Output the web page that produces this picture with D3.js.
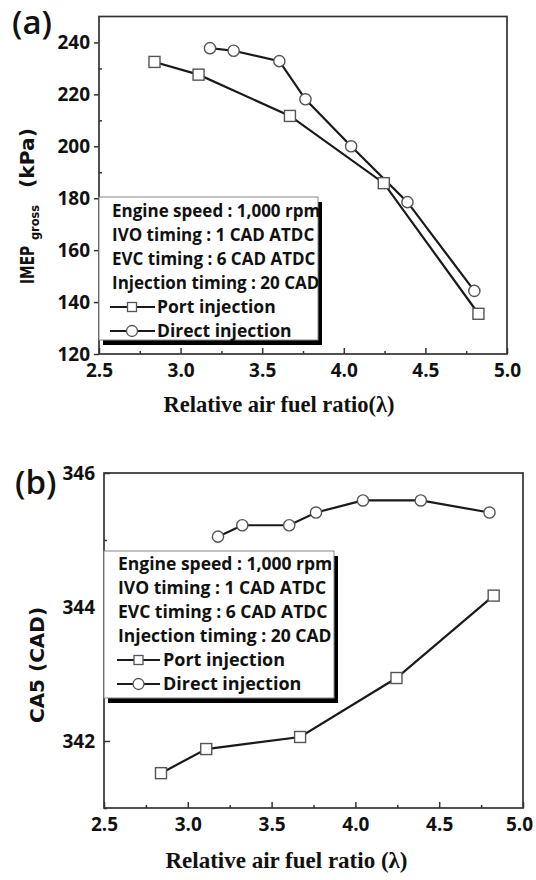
<!DOCTYPE html>
<html>
<head>
<meta charset="utf-8">
<script src="https://cdn.jsdelivr.net/npm/d3@7"></script>
<style>
  body { margin: 0; background: #fff; }
  svg { display: block; }
  .axis line { stroke: #333; stroke-width: 1.5px; }
  .legend text { font-family: "Open Sans", sans-serif; font-weight: 700; fill: #111; }
  .panel-label { font-family: "Open Sans", sans-serif; font-weight: 600; font-size: 33px; fill: #111; }
  .x-title { font-family: "Liberation Serif", "Times New Roman", serif; font-weight: 700; fill: #111; }
  .y-title { font-family: "DejaVu Sans", sans-serif; font-weight: 700; fill: #111; }
</style>
</head>
<body>
<div id="chart"></div>
<script>
// values
var lambdaPort = [2.84, 3.11, 3.67, 4.245, 4.825];
var lambdaDirect = [3.18, 3.325, 3.605, 3.765, 4.045, 4.39, 4.80];

var imepPort = [232.5, 227.6, 211.7, 185.8, 135.5];
var imepDirect = [237.8, 236.8, 232.8, 218.1, 200.0, 178.5, 144.3];

var ca5Port = [341.52, 341.88, 342.06, 342.94, 344.17];
var ca5Direct = [345.05, 345.22, 345.22, 345.41, 345.59, 345.59, 345.41];

var lambdaTicks = [2.5, 3.0, 3.5, 4.0, 4.5, 5.0];
var lambdaMinor = [2.75, 3.25, 3.75, 4.25, 4.75];
var imepTicks = [120, 140, 160, 180, 200, 220, 240];
var imepMinor = [130, 150, 170, 190, 210, 230];
var ca5Ticks = [342, 344, 346];
var ca5Minor = [341, 343, 345];

var conditions = ["Engine speed : 1,000 rpm", "IVO timing : 1 CAD ATDC", "EVC timing : 6 CAD ATDC", "Injection timing : 20 CAD"];
var seriesNames = ["Port injection", "Direct injection"];

var svg = d3.select("#chart").append("svg")
    .attr("width", 536)
    .attr("height", 880);

var panels = [
  { label: "(a)", labelX: 12, labelY: 34,
    left: 99, right: 507, top: 16.5, bottom: 354,
    yDomain: [120, 250], yTicks: imepTicks, yMinor: imepMinor, yTickOut: true,
    port: imepPort, direct: imepDirect,
    legend: { x: 99, y: 197, w: 219, h: 143, textX: 112, base: 217, step: 24, size: 17,
              lineX1: 110, lineX2: 155, symX: 132, seriesX: 157 },
    xTitle: "Relative air fuel ratio(\u03bb)", xTitleX: 279, xTitleY: 412, xTitleSize: 22.5 },
  { label: "(b)", labelX: 15, labelY: 494,
    left: 104, right: 523, top: 473, bottom: 808,
    yDomain: [341, 346], yTicks: ca5Ticks, yMinor: ca5Minor, yTickOut: false,
    port: ca5Port, direct: ca5Direct,
    legend: { x: 104, y: 551, w: 230, h: 147, textX: 118, base: 570, step: 24, size: 17.5,
              lineX1: 117, lineX2: 160, symX: 138.5, seriesX: 163 },
    xTitle: "Relative air fuel ratio (\u03bb)", xTitleX: 286.5, xTitleY: 868, xTitleSize: 23 }
];

function styleAxis(sel) {
  sel.select(".domain").remove();
  sel.attr("font-family", "'Open Sans', sans-serif")
     .attr("font-size", 19)
     .attr("font-weight", 700);
  sel.selectAll("text").attr("fill", "#111");
}

panels.forEach(function(p) {
  var g = svg.append("g");

  var x = d3.scaleLinear()
      .domain([2.5, 5.0])
      .range([p.left, p.right]);

  var y = d3.scaleLinear()
      .domain(p.yDomain)
      .range([p.bottom, p.top]);

  // x axis, ticks pointing in
  g.append("g")
      .attr("class", "axis")
      .attr("transform", "translate(0," + p.bottom + ")")
      .call(d3.axisBottom(x).tickValues(lambdaTicks).tickSizeInner(-6).tickSizeOuter(0)
        .tickPadding(10).tickFormat(d3.format(".1f")))
      .call(styleAxis)
      .call(g => g.selectAll(".tick text")
        .attr("dx", d => x(d) + 15 > 534 ? 534 - 15 - x(d) : 0));

  g.append("g")
      .attr("class", "axis")
      .attr("transform", "translate(0," + p.bottom + ")")
      .call(d3.axisBottom(x).tickValues(lambdaMinor).tickSizeInner(-3).tickSizeOuter(0).tickFormat(""))
      .call(styleAxis);

  // y axis
  g.append("g")
      .attr("class", "axis")
      .attr("transform", "translate(" + p.left + ",0)")
      .call(d3.axisLeft(y).tickValues(p.yTicks).tickSizeInner(p.yTickOut ? 5 : -6).tickSizeOuter(0)
        .tickPadding(p.yTickOut ? 4 : 9).tickFormat(d3.format("d")))
      .call(styleAxis);

  g.append("g")
      .attr("class", "axis")
      .attr("transform", "translate(" + p.left + ",0)")
      .call(d3.axisLeft(y).tickValues(p.yMinor).tickSizeInner(-3).tickSizeOuter(0).tickFormat(""))
      .call(styleAxis);

  // frame
  g.append("rect")
      .attr("x", p.left)
      .attr("y", p.top)
      .attr("width", p.right - p.left)
      .attr("height", p.bottom - p.top)
      .attr("fill", "none")
      .attr("stroke", "#333")
      .attr("stroke-width", 1.7);

  var line = d3.line()
      .x(d => x(d[0]))
      .y(d => y(d[1]));

  var portData = d3.zip(lambdaPort, p.port),
      directData = d3.zip(lambdaDirect, p.direct);

  [portData, directData].forEach(function(data) {
    g.append("path")
        .datum(data)
        .attr("d", line)
        .attr("fill", "none")
        .attr("stroke", "#1a1a1a")
        .attr("stroke-width", 2.2);
  });

  g.append("g")
      .selectAll("rect")
      .data(portData)
      .join("rect")
        .attr("x", d => x(d[0]) - 5.5)
        .attr("y", d => y(d[1]) - 5.5)
        .attr("width", 11)
        .attr("height", 11)
        .attr("fill", "#fff")
        .attr("stroke", "#555")
        .attr("stroke-width", 1.4);

  g.append("g")
      .selectAll("circle")
      .data(directData)
      .join("circle")
        .attr("cx", d => x(d[0]))
        .attr("cy", d => y(d[1]))
        .attr("r", 5.6)
        .attr("fill", "#fff")
        .attr("stroke", "#555")
        .attr("stroke-width", 1.4);

  // legend box with drop shadow
  var L = p.legend;
  var leg = g.append("g").attr("class", "legend");

  leg.append("rect")
      .attr("x", L.x + 4)
      .attr("y", L.y + 5)
      .attr("width", L.w)
      .attr("height", L.h)
      .attr("fill", "#000");

  leg.append("rect")
      .attr("x", L.x)
      .attr("y", L.y)
      .attr("width", L.w)
      .attr("height", L.h)
      .attr("fill", "#fff")
      .attr("stroke", "#888")
      .attr("stroke-width", 1);

  leg.selectAll("text.cond")
      .data(conditions)
      .join("text")
        .attr("class", "cond")
        .attr("x", L.textX)
        .attr("y", (d, i) => L.base + i * L.step)
        .attr("font-size", L.size)
        .text(d => d);

  seriesNames.forEach(function(name, i) {
    var yy = L.base + (conditions.length + i) * L.step;
    var mid = yy - 6;
    leg.append("line")
        .attr("x1", L.lineX1)
        .attr("x2", L.lineX2)
        .attr("y1", mid)
        .attr("y2", mid)
        .attr("stroke", "#1a1a1a")
        .attr("stroke-width", 2);
    if (i == 0) {
      leg.append("rect")
          .attr("x", L.symX - 4.5)
          .attr("y", mid - 4.5)
          .attr("width", 9)
          .attr("height", 9)
          .attr("fill", "#fff")
          .attr("stroke", "#555")
          .attr("stroke-width", 1.3);
    } else {
      leg.append("circle")
          .attr("cx", L.symX)
          .attr("cy", mid)
          .attr("r", 5.5)
          .attr("fill", "#fff")
          .attr("stroke", "#555")
          .attr("stroke-width", 1.3);
    }
    leg.append("text")
        .attr("x", L.seriesX)
        .attr("y", yy)
        .attr("font-size", L.size + 0.5)
        .text(name);
  });

  // panel label and axis titles
  g.append("text")
      .attr("class", "panel-label")
      .attr("x", p.labelX)
      .attr("y", p.labelY)
      .text(p.label);

  g.append("text")
      .attr("class", "x-title")
      .attr("x", p.xTitleX)
      .attr("y", p.xTitleY)
      .attr("text-anchor", "middle")
      .attr("font-size", p.xTitleSize)
      .text(p.xTitle);
});

// y titles
var yt1 = svg.append("g")
    .attr("class", "y-title")
    .attr("transform", "translate(34,284) rotate(-90)");

yt1.append("text")
    .attr("x", 0)
    .attr("y", 0)
    .attr("font-size", 20)
    .attr("textLength", 38)
    .attr("lengthAdjust", "spacingAndGlyphs")
    .text("IMEP");

yt1.append("text")
    .attr("x", 44)
    .attr("y", 5)
    .attr("font-size", 12)
    .attr("textLength", 35)
    .attr("lengthAdjust", "spacingAndGlyphs")
    .text("gross");

yt1.append("text")
    .attr("x", 96)
    .attr("y", 0)
    .attr("font-size", 20)
    .attr("textLength", 60)
    .attr("lengthAdjust", "spacingAndGlyphs")
    .text("(kPa)");

svg.append("text")
    .attr("class", "y-title")
    .attr("transform", "translate(44,665) rotate(-90)")
    .attr("text-anchor", "middle")
    .attr("font-size", 20)
    .text("CA5 (CAD)");
</script>
</body>
</html>
